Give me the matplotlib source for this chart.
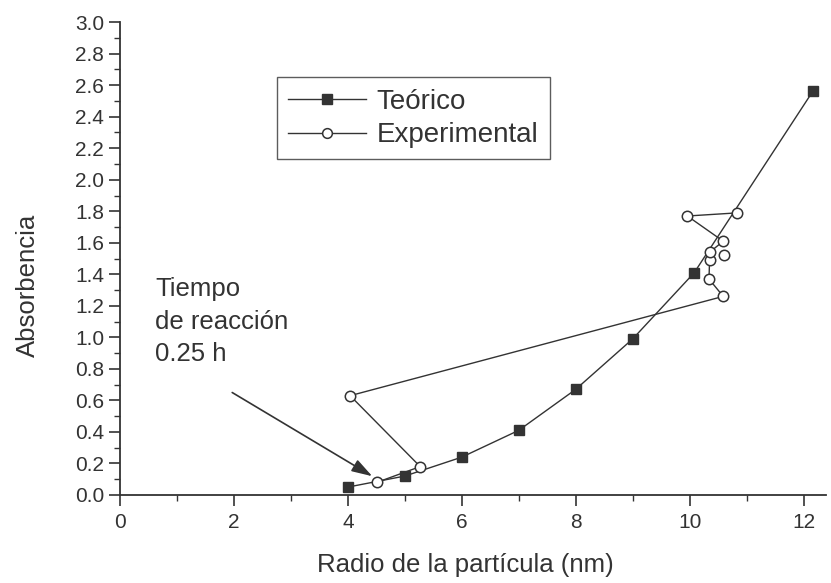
import numpy as np
import matplotlib
matplotlib.use("Agg")
import matplotlib.pyplot as plt
from matplotlib.ticker import MultipleLocator

plt.rcParams["font.family"] = ["Liberation Sans", "DejaVu Sans"]

# theoretical absorbance vs particle radius
teo_radius = [4.0, 5.0, 6.0, 7.0, 8.0, 9.0, 10.08, 12.16]
teo_abs = [0.05, 0.12, 0.24, 0.41, 0.67, 0.99, 1.41, 2.56]

# experimental points, in measurement order (nan breaks the line)
exp_radius = [4.51, 5.27, 4.04, 10.59, 10.34, 10.35, 10.35, 10.59, 9.96, 10.84,
              np.nan, 10.60]
exp_abs = [0.08, 0.18, 0.63, 1.26, 1.37, 1.49, 1.54, 1.61, 1.77, 1.79,
           np.nan, 1.52]

ink = "#333333"

fig = plt.figure(figsize=(8.31, 5.83), dpi=100)
ax = fig.add_axes([0.1444, 0.151, 0.850, 0.811])

ax.plot(teo_radius, teo_abs, "-s", color=ink, lw=1.0, ms=7.5,
        mfc=ink, mec=ink, label="Teórico", zorder=3)
ax.plot(exp_radius, exp_abs, "-o", color=ink, lw=1.0, ms=7.5,
        mfc="white", mec=ink, mew=1.1, label="Experimental", zorder=4)

ax.set_xlim(0, 12.4)
ax.set_ylim(0, 3.0)
ax.xaxis.set_major_locator(MultipleLocator(2))
ax.xaxis.set_minor_locator(MultipleLocator(1))
ax.yaxis.set_major_locator(MultipleLocator(0.2))
ax.yaxis.set_minor_locator(MultipleLocator(0.1))
ax.yaxis.set_major_formatter(plt.FormatStrFormatter("%.1f"))

for side in ("top", "right"):
    ax.spines[side].set_visible(False)
for side in ("left", "bottom"):
    ax.spines[side].set_color(ink)
    ax.spines[side].set_linewidth(1.3)

ax.tick_params(which="major", direction="out", length=8, width=1.2,
               color=ink, labelcolor=ink, labelsize=15)
ax.tick_params(which="minor", direction="out", length=4, width=1.0, color=ink)
ax.tick_params(axis="x", which="major", pad=5)

ax.set_xlabel("Radio de la partícula (nm)", fontsize=18.5, color=ink,
              va="center", ha="center")
ax.set_ylabel("Absorbencia", fontsize=18.5, color=ink,
              va="center", ha="center")
ax.xaxis.set_label_coords(0.489, -0.148)
ax.yaxis.set_label_coords(-0.13, 0.444)

leg = ax.legend(loc="upper left", bbox_to_anchor=(0.222, 0.883), fontsize=20,
                frameon=True, fancybox=False, handlelength=2.8,
                handletextpad=0.4, borderpad=0.4, labelspacing=0.28,
                borderaxespad=0, labelcolor=ink)
leg.get_frame().set_edgecolor(ink)
leg.get_frame().set_linewidth(1.0)
for h in leg.legend_handles:
    h.set_markersize(7)

ax.text(0.62, 1.10, "Tiempo\nde reacción\n0.25 h", fontsize=18.5, color=ink,
        va="center", ha="left", linespacing=1.45)
ax.annotate("", xy=(4.47, 0.11), xytext=(1.97, 0.65),
            arrowprops=dict(arrowstyle="-|>,head_length=0.7,head_width=0.22",
                            color=ink, lw=1.2, mutation_scale=18,
                            shrinkA=0, shrinkB=2))

fig.savefig("out.png", dpi=100)
